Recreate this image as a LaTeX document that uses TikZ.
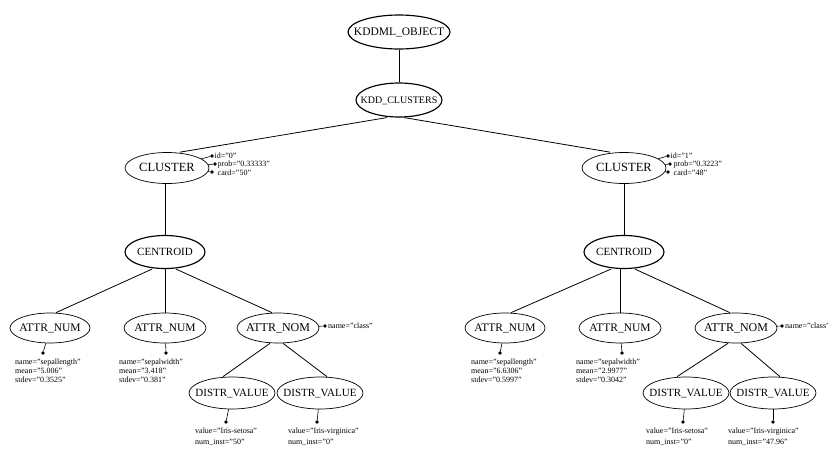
\documentclass[tikz,border=0pt]{standalone}
\usepackage{fontspec}
\setmainfont{Liberation Serif}
\usetikzlibrary{shapes.geometric}
\newcommand{\nlab}[1]{\makebox[0pt]{#1}}
\tikzset{
  ell/.style={ellipse, draw, line width=0.7pt, inner sep=0pt, text height=0.66em, text depth=0pt, font=\fontsize{11.5}{12}\selectfont},
  thk/.style={line width=1.15pt},
  edge/.style={line width=0.8pt},
  dotn/.style={circle, fill, inner sep=0pt, minimum size=3.6pt},
  attr/.style={font=\fontsize{8}{9}\selectfont, inner sep=0pt, align=left, anchor=north west},
  attrb/.style={font=\fontsize{8}{11}\selectfont, inner sep=0pt, align=left, anchor=north west},
  attrl/.style={font=\fontsize{8}{9}\selectfont, inner sep=0pt, anchor=base west}
}
\begin{document}
\begin{tikzpicture}[x=1pt,y=-1pt]
\useasboundingbox[fill=white] (0,0) rectangle (828,448);
% main nodes
\node[ell,thk,minimum width=102pt,minimum height=34pt] (obj) at (399,32) {\nlab{KDDML\_OBJECT}};
\node[ell,thk,minimum width=86pt,minimum height=34pt,font=\fontsize{10}{12}\selectfont] (kc) at (399,100) {\nlab{KDD\_CLUSTERS}};
\node[ell,minimum width=84pt,minimum height=31pt,font=\fontsize{12.5}{14}\selectfont] (clL) at (167,168) {\nlab{CLUSTER}};
\node[ell,minimum width=84pt,minimum height=31pt,font=\fontsize{12.5}{14}\selectfont] (clR) at (624,168) {\nlab{CLUSTER}};
\node[ell,thk,minimum width=80pt,minimum height=33pt,font=\fontsize{11}{12}\selectfont] (ceL) at (165,252) {\nlab{CENTROID}};
\node[ell,thk,minimum width=80pt,minimum height=33pt,font=\fontsize{11}{12}\selectfont] (ceR) at (624,252) {\nlab{CENTROID}};
\node[ell,minimum width=80pt,minimum height=30pt] (anL1) at (50,328) {\nlab{ATTR\_NUM}};
\node[ell,minimum width=82pt,minimum height=30pt] (anL2) at (165,328) {\nlab{ATTR\_NUM}};
\node[ell,minimum width=82pt,minimum height=30pt,font=\fontsize{12}{13}\selectfont] (nomL) at (278,328) {\nlab{ATTR\_NOM}};
\node[ell,minimum width=80pt,minimum height=30pt] (anR1) at (505,328) {\nlab{ATTR\_NUM}};
\node[ell,minimum width=82pt,minimum height=30pt] (anR2) at (620,328) {\nlab{ATTR\_NUM}};
\node[ell,minimum width=82pt,minimum height=30pt,font=\fontsize{12}{13}\selectfont] (nomR) at (736,328) {\nlab{ATTR\_NOM}};
\node[ell,minimum width=86pt,minimum height=32pt,font=\fontsize{11}{12}\selectfont] (dvL1) at (232,393) {\nlab{DISTR\_VALUE}};
\node[ell,minimum width=86pt,minimum height=32pt,font=\fontsize{11}{12}\selectfont] (dvL2) at (320,393) {\nlab{DISTR\_VALUE}};
\node[ell,minimum width=86pt,minimum height=32pt,font=\fontsize{11}{12}\selectfont] (dvR1) at (686,393) {\nlab{DISTR\_VALUE}};
\node[ell,minimum width=86pt,minimum height=32pt,font=\fontsize{11}{12}\selectfont] (dvR2) at (773,393) {\nlab{DISTR\_VALUE}};
% tree edges
\draw[edge] (obj.south) -- (kc.north);
\draw[edge] ([xshift=-12pt]kc.south) -- ([xshift=13pt]clL.north);
\draw[edge] ([xshift=5pt]kc.south) -- ([xshift=-14pt]clR.north);
\draw[edge] (ceL.north) -- (ceL.north |- clL.south);
\draw[edge] (clR.south) -- (ceR.north);
\draw[edge] ([xshift=-13pt]ceL.south) -- ([xshift=6pt]anL1.north);
\draw[edge] (anL2.north) -- (anL2.north |- ceL.south);
\draw[edge] ([xshift=11pt]ceL.south) -- ([xshift=-6pt]nomL.north);
\draw[edge] ([xshift=-13pt]ceR.south) -- ([xshift=6pt]anR1.north);
\draw[edge] (anR2.north) -- (anR2.north |- ceR.south);
\draw[edge] ([xshift=11pt]ceR.south) -- ([xshift=-6pt]nomR.north);
\draw[edge] ([xshift=-8pt]nomL.south) -- ([xshift=-9pt]dvL1.north);
\draw[edge] ([xshift=5pt]nomL.south) -- ([xshift=7pt]dvL2.north);
\draw[edge] ([xshift=-8pt]nomR.south) -- ([xshift=-9pt]dvR1.north);
\draw[edge] ([xshift=5pt]nomR.south) -- ([xshift=7pt]dvR2.north);
% cluster attributes
\node[dotn] (cL1) at (212,156) {};
\node[dotn] (cL2) at (215,164) {};
\node[dotn] (cL3) at (212,172) {};
\draw[edge,line width=0.6pt] (clL) -- (cL1);
\draw[edge,line width=0.6pt] (clL) -- (cL2);
\draw[edge,line width=0.6pt] (clL) -- (cL3);
\node[attrl] (tL1) at (214.5,158.8) {id="0"};
\node[attrl] (tL2) at (217.5,166.8) {prob="0.33333"};
\node[attrl] (tL3) at (217.5,175.3) {card="50"};
\node[dotn] (cR1) at (668,156) {};
\node[dotn] (cR2) at (670,164) {};
\node[dotn] (cR3) at (668,172) {};
\draw[edge,line width=0.6pt] (clR) -- (cR1);
\draw[edge,line width=0.6pt] (clR) -- (cR2);
\draw[edge,line width=0.6pt] (clR) -- (cR3);
\node[attrl] (tR1) at (670.5,158.8) {id="1"};
\node[attrl] (tR2) at (673.5,166.8) {prob="0.3223"};
\node[attrl] (tR3) at (673.5,175.3) {card="48"};
% nominal attributes
\node[dotn] (nL) at (325,326) {};
\draw[edge,line width=0.6pt] (nomL) -- (nL);
\node[attrl] (tnL) at (328,328.8) {name="class"};
\node[dotn] (nR) at (782,326) {};
\draw[edge,line width=0.6pt] (nomR) -- (nR);
\node[attrl] (tnR) at (785,328.8) {name="class"};
% numeric attributes
\node[dotn] (aL1) at (43,353) {};
\draw[edge,line width=0.6pt] (anL1) -- (aL1);
\node[attr] (xL1) at (15,358.5) {name="sepallength"\\mean="5.006"\\stdev="0.3525"};
\node[dotn] (aL2) at (166,353) {};
\draw[edge,line width=0.6pt] (anL2) -- (aL2);
\node[attr] (xL2) at (119,358.5) {name="sepalwidth"\\mean="3.418"\\stdev="0.381"};
\node[dotn] (aR1) at (500,353) {};
\draw[edge,line width=0.6pt] (anR1) -- (aR1);
\node[attr] (xR1) at (471,358.5) {name="sepallength"\\mean="6.6306"\\stdev="0.5997"};
\node[dotn] (aR2) at (622,353) {};
\draw[edge,line width=0.6pt] (anR2) -- (aR2);
\node[attr] (xR2) at (576,358.5) {name="sepalwidth"\\mean="2.9977"\\stdev="0.3042"};
% distribution values
\node[dotn] (dL1) at (226,422) {};
\draw[edge,line width=0.6pt] (dvL1) -- (dL1);
\node[attrb] (yL1) at (195,427.5) {value="Iris-setosa"\\num\_inst="50"};
\node[dotn] (dL2) at (317,422) {};
\draw[edge,line width=0.6pt] (dvL2) -- (dL2);
\node[attrb] (yL2) at (288,427.5) {value="Iris-virginica"\\num\_inst="0"};
\node[dotn] (dR1) at (683,422) {};
\draw[edge,line width=0.6pt] (dvR1) -- (dR1);
\node[attrb] (yR1) at (646,427.5) {value="Iris-setosa"\\num\_inst="0"};
\node[dotn] (dR2) at (773,422) {};
\draw[edge,line width=0.6pt] (dvR2) -- (dR2);
\node[attrb] (yR2) at (728,427.5) {value="Iris-virginica"\\num\_inst="47.96"};
\end{tikzpicture}
\end{document}
